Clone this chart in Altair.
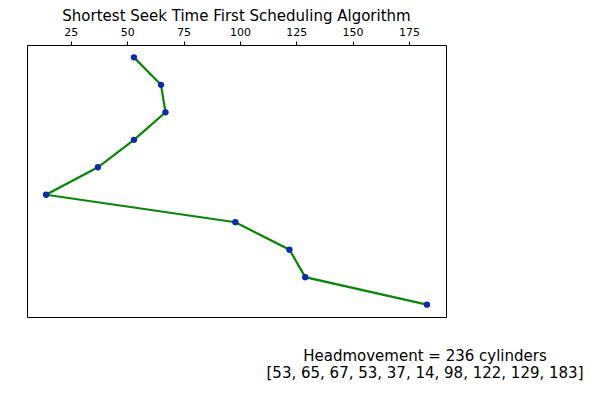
import altair as alt
import pandas as pd

positions = [53, 65, 67, 53, 37, 14, 98, 122, 129, 183]
steps = list(range(len(positions)))
tick_values = [25, 50, 75, 100, 125, 150, 175]
title_text = "Shortest Seek Time First Scheduling Algorithm"

head_movement = sum(abs(positions[i + 1] - positions[i]) for i in range(len(positions) - 1))
note_lines = [f"Headmovement = {head_movement} cylinders",
              "[" + ", ".join(str(p) for p in positions) + "]"]

df = pd.DataFrame({"cylinder": positions, "step": steps})

lo, hi = min(positions), max(positions)
pad = (hi - lo) * 0.05
n = len(positions) - 1
ypad = n * 0.05

FONT = "DejaVu Sans"

x = alt.X("cylinder:Q",
          scale=alt.Scale(domain=[lo - pad, hi + pad], nice=False, zero=False),
          axis=alt.Axis(orient="top", values=tick_values, grid=False, domain=False,
                        tickSize=4, tickColor="#000000", labelFontSize=11,
                        labelColor="#000000", labelFont=FONT, title=None,
                        labelPadding=4))
y = alt.Y("step:Q",
          scale=alt.Scale(domain=[-ypad, n + ypad], nice=False, zero=False, reverse=True),
          axis=None)

line = alt.Chart(df).mark_line(color="#0a850a", strokeWidth=2.2).encode(x=x, y=y, order="step:Q")
pts = alt.Chart(df).mark_point(filled=True, color="#0a2aa8", size=40, opacity=1).encode(x=x, y=y)

note = alt.Chart(pd.DataFrame({"t": [0]})).mark_text(
    font=FONT, fontSize=15, color="#000000", align="center", baseline="middle",
    lineHeight=17
).encode(x=alt.value(398), y=alt.value(311), text=alt.value(note_lines))

chart = alt.layer(line, pts, note).properties(
    width=419, height=272,
    title=alt.TitleParams(title_text, font=FONT, fontSize=15, fontWeight="normal",
                          color="#000000", anchor="middle", offset=2),
    autosize=alt.AutoSizeParams(type="none"),
    padding={"left": 19, "top": 37, "right": 137, "bottom": 72},
).configure(background="white").configure_view(stroke="#000000", strokeWidth=1)

chart.save("out.html", embed_options={"renderer": "svg", "actions": False})
